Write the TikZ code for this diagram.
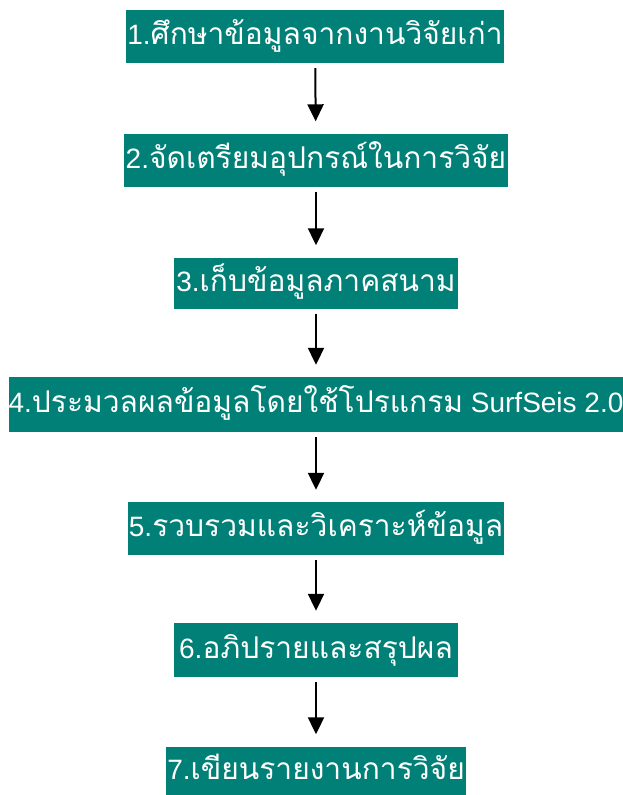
\documentclass[tikz,border=0pt]{standalone}
\usepackage{fontspec}
\setmainfont{Liberation Sans}
\newfontfamily\thaifont[Script=Thai,Scale=1.07]{Loma}
\newcommand{\thaitext}[1]{{\thaifont #1}}
\usetikzlibrary{arrows.meta}
\definecolor{boxteal}{RGB}{0,128,119}
\begin{document}
\begin{tikzpicture}[x=1pt,y=-1pt,
  stepbox/.style={fill=boxteal, text=white, inner sep=0pt, font=\fontsize{28}{32}\selectfont, minimum height=53, text height=22pt, text depth=6pt},
  flow/.style={line width=2pt, -{Triangle[width=16pt,length=17pt]}, shorten <=5pt, shorten >=12pt}]
\useasboundingbox (0,0) rectangle (623,795);
\node[stepbox, minimum width=378] (b1) at (315,36.5) {1.\thaitext{ศึกษาข้อมูลจากงานวิจัยเก่า}};
\node[stepbox, minimum width=384] (b2) at (316,160) {2.\thaitext{จัดเตรียมอุปกรณ์ในการวิจัย}};
\node[stepbox, minimum width=284, minimum height=51] (b3) at (316,283) {3.\thaitext{เก็บข้อมูลภาคสนาม}};
\node[stepbox, minimum width=612, minimum height=55] (b4) at (316,404.5) {4.\thaitext{ประมวลผลข้อมูลโดยใช้โปรแกรม} SurfSeis 2.0};
\node[stepbox, minimum width=376] (b5) at (316,528.5) {5.\thaitext{รวบรวมและวิเคราะห์ข้อมูล}};
\node[stepbox, minimum width=284, minimum height=54] (b6) at (316,650) {6.\thaitext{อภิปรายและสรุปผล}};
\node[stepbox, minimum width=300, minimum height=49] (b7) at (316,771) {7.\thaitext{เขียนรายงานการวิจัย}};
\draw[flow] (b1) -- (b2);
\draw[flow] (b2) -- (b3);
\draw[flow] (b3) -- (b4);
\draw[flow] (b4) -- (b5);
\draw[flow] (b5) -- (b6);
\draw[flow] (b6) -- (b7);
\end{tikzpicture}
\end{document}
